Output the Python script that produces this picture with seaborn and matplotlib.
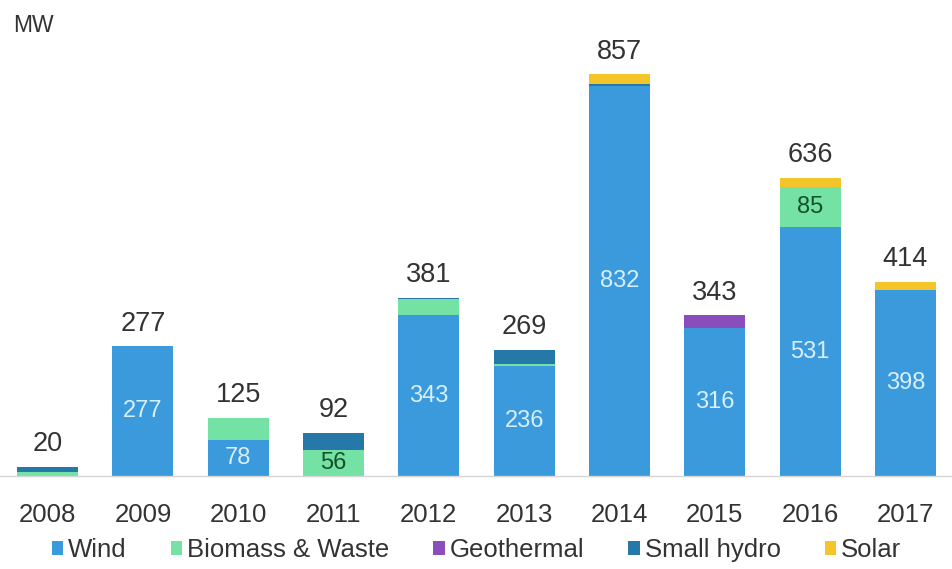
import matplotlib
matplotlib.use("Agg")
import matplotlib.pyplot as plt
import seaborn as sns
import numpy as np
import pandas as pd
from matplotlib.patches import Patch

years = ["2008", "2009", "2010", "2011", "2012", "2013", "2014", "2015", "2016", "2017"]
wind = [0, 277, 78, 0, 343, 236, 832, 316, 531, 398]
biomass = [10, 0, 47, 56, 35, 3, 0, 0, 85, 0]
geothermal = [0, 0, 0, 0, 0, 0, 0, 27, 0, 0]
small_hydro = [10, 0, 0, 36, 3, 30, 5, 0, 0, 0]
solar = [0, 0, 0, 0, 0, 0, 20, 0, 20, 16]
totals = [20, 277, 125, 92, 381, 269, 857, 343, 636, 414]

series_names = ["Wind", "Biomass & Waste", "Geothermal", "Small hydro", "Solar"]
colors = ["#3a9adb", "#74e2a4", "#8a4dbb", "#2678a8", "#f4c52a"]

sns.set_theme(style="white")
plt.rcParams['font.family'] = ['Liberation Sans', 'DejaVu Sans']

fig = plt.figure(figsize=(9.53, 5.69), dpi=100)
ax = fig.add_axes([0.0, 0.163, 1.0, 0.77])

layers = [wind, biomass, geothermal, small_hydro, solar]
cum = np.cumsum(np.array(layers), axis=0)
# draw from top layer down so lower layers overlay
for i in range(len(layers) - 1, -1, -1):
    df = pd.DataFrame({"year": years, "value": cum[i]})
    sns.barplot(data=df, x="year", y="value", order=years, color=colors[i],
                saturation=1, width=0.64, ax=ax, linewidth=0, errorbar=None)

ax.set_xlim(-0.45, 9.4)
ax.set_ylim(0, 934)
ax.set_xlabel("")
ax.set_ylabel("")
ax.set_yticks([])
for s in ["top", "right", "left"]:
    ax.spines[s].set_visible(False)
ax.spines["bottom"].set_color("#d5d5d5")
ax.spines["bottom"].set_linewidth(1.0)
ax.set_xticks(range(len(years)))
ax.set_xticklabels(years, fontsize=18.5, color="#333333")
ax.tick_params(axis="x", length=0, pad=19)
# minor ticks between categories
ax.set_xticks(np.arange(-0.5, 10, 1), minor=True)
ax.tick_params(axis="x", which="minor", length=4, color="#d5d5d5", direction="out")

# totals
for i, t in enumerate(totals):
    ax.annotate(str(t), (i, t), xytext=(0, 7), textcoords="offset points",
                ha="center", va="bottom", fontsize=19.5, color="#333333")

# inside labels
for i, w in enumerate(wind):
    if w > 60:
        ax.text(i, w / 2, str(w), ha="center", va="center", fontsize=17, color="#d8effd")
for i, b in enumerate(biomass):
    if b >= 50:
        base = wind[i]
        ax.text(i, base + b / 2, str(b), ha="center", va="center", fontsize=17, color="#14502a")

fig.text(0.014, 0.955, "MW", fontsize=16.5, color="#333333", ha="left", va="center")

handles = [Patch(facecolor=c, edgecolor="none") for c in colors]
fig.legend(handles, series_names, loc="center", bbox_to_anchor=(0.5, 0.033), ncol=5,
           frameon=False, fontsize=18.5, handlelength=0.45, handleheight=0.45,
           handletextpad=0.2, columnspacing=1.7, labelcolor="#333333")

fig.savefig("out.png", dpi=100)
